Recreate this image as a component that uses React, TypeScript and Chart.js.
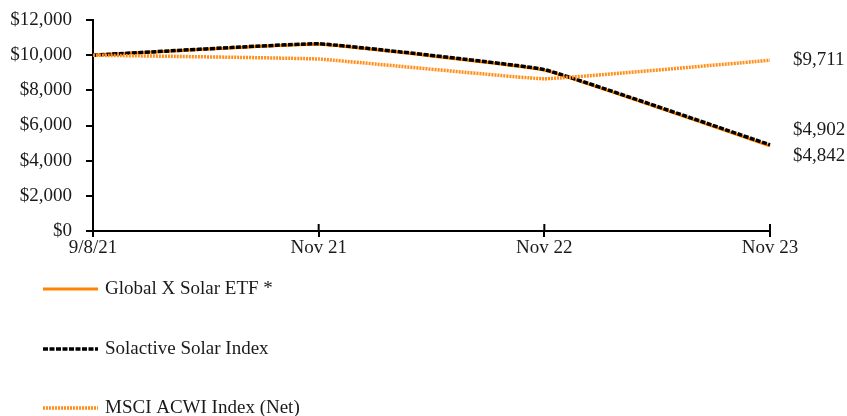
import React, { useEffect, useRef } from "react";
import { Chart, registerables } from "chart.js";

Chart.register(...registerables);

const categories = ["9/8/21", "Nov 21", "Nov 22", "Nov 23"];
const etfValues = [10000, 10620, 9150, 4842];
const solactiveValues = [10000, 10650, 9180, 4902];
const msciValues = [10000, 9780, 8660, 9711];
const seriesNames = ["Global X Solar ETF *", "Solactive Solar Index", "MSCI ACWI Index (Net)"];
const yTicks = [0, 2000, 4000, 6000, 8000, 10000, 12000];

const FAMILY = '"Liberation Serif", "Times New Roman", serif';
const SIZE = 19;
const FONT = `${SIZE}px ${FAMILY}`;
const ORANGE = "#FF8300";
const ORANGE_LIGHT = "#FF8F1A";
const TEXT = "#1a1a1a";

const fmt = (v: number) => "$" + v.toLocaleString("en-US");

const extrasPlugin = {
  id: "extras",
  afterDraw(chart: any) {
    const ctx = chart.ctx as CanvasRenderingContext2D;
    const xs = chart.scales.x;
    const ys = chart.scales.y;
    const area = chart.chartArea;
    ctx.save();
    // upward tick marks on x axis
    ctx.strokeStyle = "#000";
    ctx.lineWidth = 2;
    categories.forEach((_, i) => {
      const x = xs.getPixelForValue(i);
      ctx.beginPath();
      ctx.moveTo(x, area.bottom);
      ctx.lineTo(x, area.bottom - 7);
      ctx.stroke();
    });
    // end labels
    const ds = chart.data.datasets;
    const items = ds.map((d: any) => {
      const v = d.data[d.data.length - 1];
      return { v, y: ys.getPixelForValue(v) };
    });
    const sorted = [...items].sort((a: any, b: any) => a.y - b.y);
    const gap = 26;
    for (let i = 1; i < sorted.length; i++) {
      const prev = sorted[i - 1];
      const cur = sorted[i];
      if (cur.y - prev.y < gap) {
        const mid = (cur.y + prev.y) / 2;
        prev.y = mid - gap / 2 - 2;
        cur.y = mid + gap / 2 - 2;
      }
    }
    ctx.font = FONT;
    ctx.fillStyle = TEXT;
    ctx.textAlign = "left";
    ctx.textBaseline = "middle";
    items.forEach((it: any) => {
      ctx.fillText(fmt(it.v), area.right + 23, it.y);
    });
    // legend
    const rows = [58, 118, 177];
    ds.forEach((d: any, i: number) => {
      const y = area.bottom + rows[i];
      ctx.save();
      ctx.strokeStyle = d.borderColor;
      ctx.lineWidth = d.borderWidth;
      ctx.setLineDash(d.borderDash || []);
      ctx.beginPath();
      ctx.moveTo(43, y);
      ctx.lineTo(98, y);
      ctx.stroke();
      ctx.restore();
      ctx.font = FONT;
      ctx.fillStyle = TEXT;
      ctx.textAlign = "left";
      ctx.textBaseline = "middle";
      ctx.fillText(d.label, 105, y);
    });
    ctx.restore();
  },
};

export default function App() {
  const ref = useRef<HTMLCanvasElement | null>(null);
  useEffect(() => {
    const canvas = ref.current!;
    const chart = new Chart(canvas, {
      type: "line",
      data: {
        labels: categories,
        datasets: [
          {
            label: seriesNames[0],
            data: etfValues,
            borderColor: ORANGE,
            borderWidth: 3,
            pointRadius: 0,
            tension: 0.08,
            order: 3,
          },
          {
            label: seriesNames[1],
            data: solactiveValues,
            borderColor: "#000",
            borderWidth: 3.5,
            borderDash: [5, 1.5],
            pointRadius: 0,
            tension: 0.08,
            order: 2,
          },
          {
            label: seriesNames[2],
            data: msciValues,
            borderColor: ORANGE_LIGHT,
            borderWidth: 3.5,
            borderDash: [2, 1],
            pointRadius: 0,
            tension: 0.08,
            order: 1,
          },
        ],
      },
      options: {
        animation: false,
        responsive: false,
        maintainAspectRatio: false,
        layout: { padding: { top: 20, right: 77, left: 0, bottom: 0 } },
        plugins: {
          legend: { display: false },
          tooltip: { enabled: false },
        },
        scales: {
          x: {
            type: "category",
            offset: false,
            border: { display: true, color: "#000", width: 2 },
            grid: { display: true, drawOnChartArea: false, drawTicks: true, tickLength: 6, color: "#000", lineWidth: 2 },
            ticks: { color: TEXT, font: { family: FAMILY, size: SIZE }, padding: 0, maxRotation: 0, autoSkip: false },
            afterFit(scale: any) {
              scale.height = 185;
            },
          },
          y: {
            min: 0,
            max: 12000,
            afterBuildTicks(scale: any) {
              scale.ticks = yTicks.map((v) => ({ value: v }));
            },
            border: { display: true, color: "#000", width: 2 },
            grid: { display: true, drawOnChartArea: false, drawTicks: true, tickLength: 7, color: "#000", lineWidth: 2 },
            ticks: {
              color: TEXT,
              font: { family: FAMILY, size: SIZE },
              padding: 14,
              callback: (v: any) => fmt(Number(v)),
            },
            afterFit(scale: any) {
              scale.width = 93;
              scale.paddingTop = 0;
            },
          },
        },
      },
      plugins: [extrasPlugin],
    });
    return () => chart.destroy();
  }, []);
  return (
    <div style={{ position: "fixed", left: 0, top: 0, width: 847, height: 416, background: "#fff" }}>
      <canvas ref={ref} width={847} height={416} style={{ width: 847, height: 416 }} />
    </div>
  );
}
